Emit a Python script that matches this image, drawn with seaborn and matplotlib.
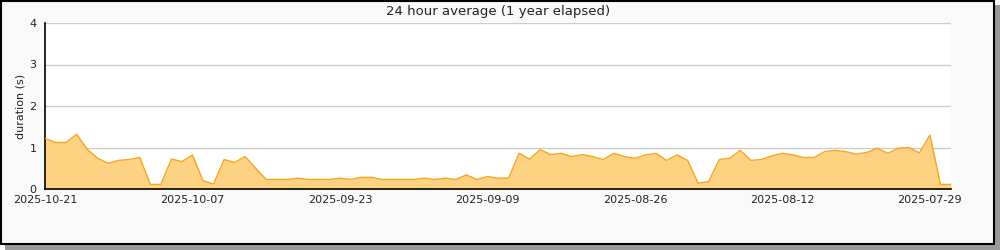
import numpy as np
import pandas as pd
import matplotlib
matplotlib.use("Agg")
import matplotlib.pyplot as plt
from matplotlib.patches import Rectangle
from matplotlib.ticker import MultipleLocator
import seaborn as sns

start_date = "2025-10-21"
end_date = "2025-07-27"
tick_labels = ["2025-10-21", "2025-10-07", "2025-09-23", "2025-09-09",
               "2025-08-26", "2025-08-12", "2025-07-29"]
minor_ticks = ["2025-10-14", "2025-09-30", "2025-09-16", "2025-09-02",
               "2025-08-19", "2025-08-05"]
durations = [1.22, 1.12, 1.12, 1.32, 0.96, 0.74, 0.62, 0.69, 0.71, 0.76,
             0.11, 0.11, 0.72, 0.66, 0.82, 0.20, 0.12, 0.71, 0.64, 0.78,
             0.50, 0.23, 0.23, 0.23, 0.26, 0.23, 0.23, 0.23, 0.26, 0.23,
             0.28, 0.28, 0.23, 0.23, 0.23, 0.23, 0.26, 0.23, 0.26, 0.23,
             0.34, 0.23, 0.30, 0.26, 0.26, 0.86, 0.72, 0.95, 0.83, 0.86,
             0.78, 0.83, 0.78, 0.71, 0.86, 0.78, 0.74, 0.82, 0.86, 0.69,
             0.82, 0.69, 0.14, 0.18, 0.71, 0.74, 0.93, 0.69, 0.71, 0.80,
             0.86, 0.82, 0.76, 0.76, 0.90, 0.93, 0.90, 0.84, 0.88, 0.98,
             0.86, 0.98, 1.00, 0.87, 1.30, 0.11, 0.11]
title = "24 hour average (1 year elapsed)"
ylabel = "duration (s)"

dates = pd.date_range(end=start_date, periods=len(durations), freq="D")[::-1]
df = pd.DataFrame({"date": dates, "duration": durations})

sns.set_theme(style="white")
plt.rcParams["font.family"] = ["DejaVu Sans"]

fig = plt.figure(figsize=(10, 2.5), dpi=100)
fig.patch.set_facecolor("white")

# shadow and frame
fig.patches.append(Rectangle((5 / 1000, 0), 995 / 1000, 245 / 250, transform=fig.transFigure,
                             facecolor="#9a9a9a", edgecolor="none", zorder=-3))
fig.patches.append(Rectangle((0.5 / 1000, 6 / 250), 993.5 / 1000, 243.5 / 250, transform=fig.transFigure,
                             facecolor="#f9f9f9", edgecolor="black", linewidth=1.5, zorder=-2))

ax = fig.add_axes([45 / 1000, 1 - 189 / 250, 906 / 1000, 166 / 250])
ax.set_facecolor("white")

ax.fill_between(df["date"], df["duration"], 0, color="#fdd282", linewidth=0, zorder=2)
sns.lineplot(data=df, x="date", y="duration", ax=ax, color="#f7a51c", linewidth=1.0, zorder=3)

ax.set_xticks([pd.Timestamp(t) for t in tick_labels])
ax.set_xticklabels(tick_labels)
ax.set_xticks([pd.Timestamp(t) for t in minor_ticks], minor=True)
ax.set_xlim(pd.Timestamp(start_date), pd.Timestamp(end_date))
ax.set_ylim(0, 4)
ax.yaxis.set_major_locator(MultipleLocator(1))
ax.yaxis.set_minor_locator(MultipleLocator(0.5))

ax.grid(axis="y", which="major", color="#cccccc", linewidth=1)
ax.set_axisbelow(True)
for s in ["top", "right"]:
    ax.spines[s].set_visible(False)
for s in ["left", "bottom"]:
    ax.spines[s].set_color("black")
    ax.spines[s].set_linewidth(1.2)
ax.tick_params(axis="both", which="both", direction="in", color="black", width=1,
               labelsize=8, labelcolor="#222222")
ax.tick_params(axis="both", which="major", length=5)
ax.tick_params(axis="both", which="minor", length=5)
ax.xaxis.set_tick_params(pad=4)
ax.yaxis.set_tick_params(pad=6)
ax.set_xlabel("")
ax.set_ylabel(ylabel, fontsize=8, color="#222222")
ax.yaxis.set_label_coords(-0.022, 0.5)
fig.text(498 / 1000, 1 - 11 / 250, title, ha="center", va="center", fontsize=9.5, color="#222222")

fig.savefig("out.png", dpi=100, facecolor=fig.get_facecolor())
